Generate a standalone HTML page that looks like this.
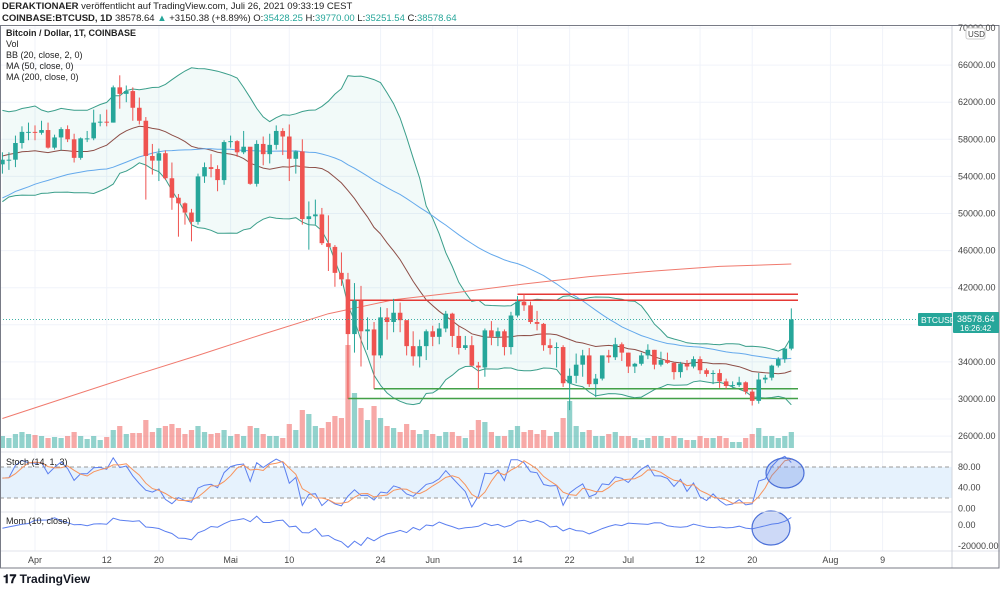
<!DOCTYPE html>
<html><head><meta charset="utf-8">
<style>
html,body{margin:0;padding:0;background:#fff;width:1000px;height:590px;overflow:hidden;font-family:"Liberation Sans",sans-serif}
#hdr{position:absolute;left:2px;top:1px;font-size:9.5px;color:#222;line-height:12px}
#hdr b{font-weight:bold}
.g{color:#26a69a}
svg{position:absolute;left:0;top:0}
#logo{position:absolute;left:3px;top:572px;font-size:12px;font-weight:bold;color:#131722}
</style></head><body>
<div id="hdr">
<div><b>DERAKTIONAER</b> veröffentlicht auf TradingView.com, Juli 26, 2021 09:33:19 CEST</div>
<div><b>COINBASE:BTCUSD, 1D</b> 38578.64 <span class="g">▲</span> +3150.38 (+8.89%) O:<span class="g">35428.25</span> H:<span class="g">39770.00</span> L:<span class="g">35251.54</span> C:<span class="g">38578.64</span></div>
</div>
<svg id="chart" width="1000" height="590"></svg>
<div id="logo">𝟏𝟕 TradingView</div>
<script>
const pre = [38.3,39.3,38.9,46.4,46.5,44.8,47.9,47.4,47.2,48.6,47.9,49.1,52.1,51.6,55.9,55.9,57.4,54.1,48.9,49.7,47.0,46.3,46.2,45.2,49.6,48.4,50.5,48.4,48.8,48.9,
51.2,52.3,54.9,55.9,57.8,57.2,61.2,59.0,55.6,56.9,58.9,57.6,58.2,58.1,57.4,54.1,54.3,52.3,51.3,55.1];
const closes = [55.8,55.8,57.6,58.8,58.8,
58.7,59.0,57.1,58.2,59.1,58.0,56.0,58.1,58.1,59.8,59.9,59.8,63.6,62.9,63.2,61.4,60.0,56.2,55.7,56.5,53.8,51.7,51.1,50.1,49.1,54.0,55.0,54.8,53.6,57.7,
57.8,56.6,57.2,53.2,57.5,56.4,57.4,58.9,58.3,55.9,56.7,49.4,49.7,49.9,46.8,46.4,43.6,42.9,37.0,40.6,37.3,37.5,34.7,38.8,38.3,39.3,38.5,35.7,34.6,35.7,37.3,
36.7,37.6,39.2,36.8,35.5,35.8,33.6,33.4,37.4,36.7,37.3,35.6,39.0,40.5,40.1,38.3,38.1,35.8,35.5,35.6,31.7,32.5,33.7,34.7,31.6,32.2,34.7,34.5,35.9,35.0,
33.5,33.8,34.7,35.3,33.7,34.2,33.9,32.9,33.8,33.5,34.3,33.1,32.7,32.8,31.9,31.4,31.5,31.8,30.8,29.8,32.1,32.3,33.6,34.3,35.43,38.58];
const highs = [56.6,56.6,58.4,59.4,59.8,
59.5,60.0,59.8,58.5,59.3,59.5,58.6,58.2,58.9,61.2,60.7,61.2,63.8,64.9,63.8,63.6,62.5,60.4,57.5,57.0,56.8,55.5,52.1,51.2,50.5,54.3,55.5,56.4,55.2,57.9,
58.4,57.9,58.9,57.1,57.9,58.3,58.6,59.5,59.2,59.6,56.8,58.0,51.3,51.5,50.6,49.8,46.6,45.8,43.6,42.5,42.2,38.8,38.3,39.9,39.8,40.8,40.4,38.2,37.3,36.4,37.5,
37.9,38.2,39.5,39.3,37.9,36.8,36.8,34.0,37.6,38.4,37.7,37.5,39.4,41.1,41.3,40.5,39.5,38.2,36.5,36.1,35.8,33.3,34.9,35.3,35.5,32.7,34.7,35.3,36.6,36.1,
35.0,33.9,35.0,35.9,35.3,35.1,35.0,33.9,34.0,34.2,34.6,34.6,33.3,33.1,33.2,32.2,31.9,32.4,31.9,31.1,32.8,32.6,33.7,34.5,35.4,39.77];
const lows = [54.3,54.7,55.0,57.0,57.9,
57.9,58.5,57.0,56.9,56.8,57.7,55.5,55.8,57.7,57.9,59.4,59.4,59.8,61.3,62.0,60.0,59.6,51.5,54.2,53.5,53.6,50.4,47.5,48.8,47.0,48.8,53.3,53.9,52.4,53.1,
57.1,56.1,56.4,53.1,52.9,55.2,55.4,56.9,56.3,53.5,54.3,48.8,46.1,48.8,46.6,43.8,42.1,42.2,30.0,35.0,33.5,35.3,31.1,34.4,36.4,37.2,37.2,34.7,33.6,33.4,34.2,
35.7,35.9,37.2,35.6,34.8,35.3,33.5,31.1,32.4,35.8,35.7,34.7,34.8,38.8,39.5,38.1,37.4,35.2,34.8,33.4,31.3,28.8,31.7,32.4,31.3,30.2,32.0,33.9,34.2,34.1,
32.8,32.8,33.6,34.3,33.2,33.5,33.8,32.1,32.3,33.1,33.3,32.7,32.4,31.6,31.2,31.1,31.2,31.3,30.5,29.3,29.5,31.7,32.0,33.4,33.9,35.25];
const volumes = [12,10,14,16,14,
13,12,10,11,10,12,16,12,9,12,8,11,18,22,14,15,15,28,16,20,22,24,20,14,18,22,16,14,15,18,
12,14,12,22,20,14,12,12,10,24,18,38,34,22,20,26,32,30,103,55,40,28,42,30,22,20,16,24,18,14,18,
14,12,16,16,12,10,18,28,26,16,12,12,18,22,16,18,14,18,12,16,30,47,22,16,18,12,12,14,16,12,
12,10,8,10,12,12,10,12,10,8,8,12,10,10,12,10,6,6,10,14,20,12,12,10,12,16];
const ma200Idx = [0,10,20,30,40,50,60,70,80,90,100,110,121];
const ma200Val = [27.9,30.2,32.5,34.7,37.0,39.2,40.7,41.5,42.4,43.2,43.8,44.3,44.55];
const priceTicks = [70000,66000,62000,58000,54000,50000,46000,42000,38000,34000,30000,26000];
const dateTickIdx = [5,16,24,35,44,58,66,79,87,96,107,115,127,135];
const dateTickLbl = ["Apr","12","20","Mai","10","24","Jun","14","22","Jul","12","20","Aug","9"];
const hLines = [{p:41.3,i0:79,c:"#e53935"},{p:40.65,i0:53,c:"#e53935"},{p:31.1,i0:57,c:"#43a047"},{p:30.05,i0:53,c:"#43a047"}];

const NS="http://www.w3.org/2000/svg", svg=document.getElementById('chart');
const X0=2.4, DX=6.52, PR=952;
const xi=i=>X0+i*DX;
const yp=p=>28+(70-p)*9.275;
const ys=v=>508.3-v*0.517;
const ym=v=>525-v*1.05/1000;
function el(t,a,parent){const e=document.createElementNS(NS,t);for(const k in a)e.setAttribute(k,a[k]);(parent||svg).appendChild(e);return e;}
function txt(x,y,s,a){const e=el('text',Object.assign({x:x,y:y,'font-size':9,fill:'#444','font-family':'Liberation Sans, sans-serif'},a||{}));e.textContent=s;return e;}

// frame & grid
const grid=el('g',{});
priceTicks.forEach(p=>{el('line',{x1:0,x2:PR,y1:yp(p/1000),y2:yp(p/1000),stroke:'#f0f3fa'},grid);});
dateTickIdx.forEach(i=>{el('line',{x1:xi(i),x2:xi(i),y1:25,y2:551,stroke:'#f0f3fa'},grid);});
// stoch band
const sb=el('rect',{x:0,y:ys(80),width:PR,height:ys(20)-ys(80),fill:'#e6f2fd'});

[80,20].forEach(v=>el('line',{x1:0,x2:PR,y1:ys(v),y2:ys(v),stroke:'#999','stroke-dasharray':'4,3'}));

const all=pre.concat(closes), P=pre.length, N=closes.length;
function sma(arr,j,n){let s=0;for(let k=j-n+1;k<=j;k++)s+=arr[k];return s/n;}
const mid=[],up=[],lo=[],ma50=[];
for(let i=0;i<N;i++){const j=P+i;const m=sma(all,j,20);let v=0;for(let k=j-19;k<=j;k++)v+=(all[k]-m)**2;const sd=Math.sqrt(v/20);
mid.push(m);up.push(m+2*sd);lo.push(m-2*sd);ma50.push(sma(all,j,50));}
const pts=(a,f)=>a.map((v,i)=>xi(i).toFixed(1)+','+f(v).toFixed(1)).join(' ');
// BB fill
const bbf=el('polygon',{points:pts(up,yp)+' '+lo.map((v,i)=>xi(i).toFixed(1)+','+yp(v).toFixed(1)).reverse().join(' '),fill:'rgba(38,166,154,0.06)'});


// volume
const vg=el('g',{});
volumes.forEach((v,i)=>{const o=i?closes[i-1]:55.3;const up_=closes[i]>=o;
const r=el('rect',{x:xi(i)-2.6,y:448-v,width:5.2,height:v,fill:up_?'rgba(38,166,154,0.5)':'rgba(239,83,80,0.5)'},vg);
});

// lines
function line(a,f,col,name,w){const l=el('polyline',{points:pts(a,f),fill:'none',stroke:col,'stroke-width':w||1});return l;}
line(up,yp,'#3a9e8a','bb-upper');line(lo,yp,'#3a9e8a','bb-lower');line(mid,yp,'#8d4e47','bb-basis');
line(ma50,yp,'#64a9ec','ma50');
const m200=el('polyline',{points:ma200Idx.map((i,k)=>xi(i).toFixed(1)+','+yp(ma200Val[k]).toFixed(1)).join(' '),fill:'none',stroke:'#f07a6e'});


// horizontal drawn lines
hLines.forEach(h=>{const l=el('line',{x1:xi(h.i0),x2:798,y1:yp(h.p),y2:yp(h.p),stroke:h.c,'stroke-width':1.5});
});

// candles
const cg=el('g',{});
closes.forEach((c,i)=>{const o=i?closes[i-1]:55.3;const col=c>=o?'#26a69a':'#ef5350';const x=xi(i);
const w=el('line',{x1:x,x2:x,y1:yp(highs[i]),y2:yp(lows[i]),stroke:col},cg);

const t=yp(Math.max(o,c)),b=yp(Math.min(o,c));
const r=el('rect',{x:x-2.3,y:t,width:4.6,height:Math.max(1,b-t),fill:col},cg);
});

// last price line
el('line',{x1:0,x2:PR,y1:yp(38.58),y2:yp(38.58),stroke:'#26a69a','stroke-dasharray':'1,2','stroke-width':0.8});

// stochastic
const kR=[];for(let i=0;i<N;i++){let hh=-1e9,ll=1e9;for(let k=i-13;k<=i;k++){const h=k>=0?highs[k]:all[P+k],l=k>=0?lows[k]:all[P+k];hh=Math.max(hh,h);ll=Math.min(ll,l);}kR.push(100*(closes[i]-ll)/(hh-ll));}
const dR=kR.map((v,i)=>i<2?v:(kR[i]+kR[i-1]+kR[i-2])/3);
line(kR,ys,'#5b7ff0','stoch-k');line(dR,ys,'#f7935c','stoch-d');
// momentum
const mom=closes.map((c,i)=>(c-all[P+i-10])*1000);
line(mom,ym,'#5b7ff0','momentum-line');

// highlight ellipses
[[785,473,19,15],[771,528,19,17]].forEach(e=>{const c=el('ellipse',{cx:e[0],cy:e[1],rx:e[2],ry:e[3],fill:'rgba(90,130,230,0.3)',stroke:'#4a6fd8','stroke-width':1.2});
});

// separators & frame
[[0,452,PR,452],[0,512,PR,512],[0,551,1000,551]].forEach(s=>el('line',{x1:s[0],y1:s[1],x2:s[2],y2:s[3],stroke:'#e0e3eb'}));
el('line',{x1:PR,x2:PR,y1:25,y2:568,stroke:'#d1d4dc'});
el('rect',{x:0.5,y:25.5,width:998.5,height:542.5,fill:'none',stroke:'#787b86'});

// price axis
priceTicks.forEach(p=>{const t=txt(958,yp(p/1000)+3,p.toFixed(2));});
el('rect',{x:966,y:28,width:19,height:11,fill:'#fff',stroke:'#ccc',rx:2});txt(968,37,'USD',{'font-size':8});
[[80,'80.00'],[40,'40.00'],[0,'0.00']].forEach(a=>txt(958,ys(a[0])+3,a[1]));
txt(958,ym(0)+3,'0.00');txt(958,ym(-20000)+3,'-20000.00');
// price labels
el('rect',{x:918,y:313,width:34,height:13,fill:'#26a69a',rx:1});txt(921,323,'BTCUSD',{fill:'#fff','font-size':8.5});
el('rect',{x:953,y:312,width:46,height:21,fill:'#26a69a',rx:1});txt(957,322,'38578.64',{fill:'#fff'});txt(960,331,'16:26:42',{fill:'#fff','font-size':8});

// date axis
dateTickIdx.forEach((i,k)=>{const t=txt(xi(i),563,dateTickLbl[k],{'text-anchor':'middle'});});

// legends
const lg=[['Bitcoin / Dollar, 1T, COINBASE',36,'bold'],['Vol',47,'normal'],['BB (20, close, 2, 0)',58,'normal'],['MA (50, close, 0)',69,'normal'],['MA (200, close, 0)',80,'normal']];
lg.forEach(l=>{const t=txt(6,l[1],l[0],{'font-weight':l[2],fill:'#222'});});
const s1=txt(6,465,'Stoch (14, 1, 3)',{fill:'#222'});
const s2=txt(6,524,'Mom (10, close)',{fill:'#222'});
</script>
</body></html>
